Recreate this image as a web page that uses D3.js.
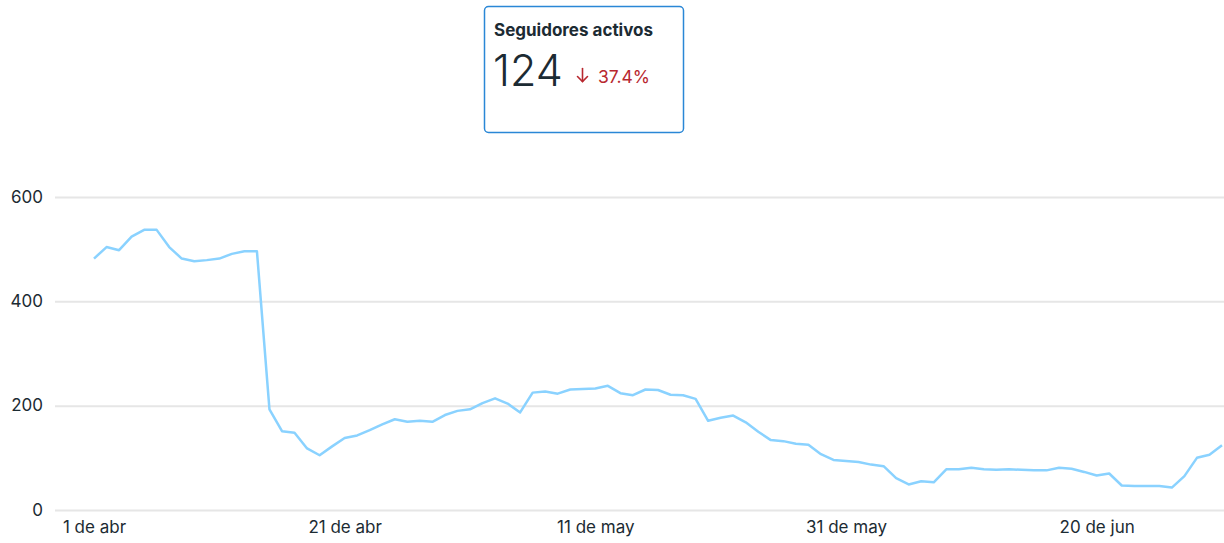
<!DOCTYPE html>
<html>
<head>
<meta charset="utf-8">
<script src="https://cdn.jsdelivr.net/npm/d3@7"></script>
<style>
  body { margin: 0; background: #fff; font-family: "Inter", "Roboto", sans-serif; }
  svg { display: block; }
</style>
</head>
<body>
<svg id="chart"></svg>
<script>
// Active followers per day, 1 Apr -> 30 Jun
const startDate = new Date(2024, 3, 1);
const followers = [
  482, 504, 498, 524, 537, 537, 504, 482, 477, 479,
  482, 491, 496, 496, 193, 151, 148, 118, 105, 122,
  138, 143, 153, 164, 174, 169, 171, 169, 182, 190,
  193, 205, 214, 204, 187, 225, 227, 223, 231, 232,
  233, 238, 224, 220, 231, 230, 221, 220, 213, 171,
  177, 181, 168, 150, 134, 132, 127, 125, 107, 96,
  94, 92, 87, 84, 61, 49, 55, 53, 78, 78,
  81, 78, 77, 78, 77, 76, 76, 81, 79, 73,
  66, 70, 47, 46, 46, 46, 43, 65, 100, 106,
  124
];
const yTicks = [0, 200, 400, 600];
const xTickLabels = ["1 de abr", "21 de abr", "11 de may", "31 de may", "20 de jun"];
const cardTitle = "Seguidores activos";
const cardValue = "124";
const cardChange = "37.4%";

const width = 1224, height = 543;
const font = "Inter, Roboto, sans-serif";
const svg = d3.select("#chart").attr("width", width).attr("height", height);

const data = followers.map((v, i) => ({ date: d3.timeDay.offset(startDate, i), value: v }));
const xTickDates = xTickLabels.map((_, i) => d3.timeDay.offset(startDate, i * 20));

const x = d3.scaleTime()
  .domain([startDate, data[data.length - 1].date])
  .range([94, 1222]);
const y = d3.scaleLinear().domain([0, 600]).range([510, 197]);

// Grid lines + y labels
const yAxis = svg.append("g")
  .attr("transform", "translate(55,0)")
  .call(d3.axisLeft(y).tickValues(yTicks).tickSize(-(width - 55)).tickPadding(12));
yAxis.select(".domain").remove();
yAxis.selectAll(".tick line").attr("stroke", "#e6e6e6").attr("stroke-width", 2);
yAxis.selectAll(".tick text")
  .attr("fill", "#1c2b33")
  .attr("dy", "0.3em")
  .style("font-size", "17px")
  .style("font-family", font);

// X labels
const xAxis = svg.append("g")
  .attr("transform", "translate(0,517)")
  .call(d3.axisBottom(x).tickValues(xTickDates).tickSize(0).tickPadding(4)
    .tickFormat((d, i) => xTickLabels[i]));
xAxis.select(".domain").remove();
xAxis.selectAll(".tick text")
  .attr("fill", "#1c2b33")
  .style("font-size", "17px")
  .style("font-family", font);

// Line
const line = d3.line()
  .x(d => x(d.date))
  .y(d => y(d.value));
svg.append("path")
  .datum(data)
  .attr("fill", "none")
  .attr("stroke", "#8ad2ff")
  .attr("stroke-width", 2.5)
  .attr("stroke-linejoin", "round")
  .attr("d", line);

// Summary card
const card = svg.append("g").attr("transform", "translate(484.5,6.5)");
card.append("rect")
  .attr("width", 199).attr("height", 126)
  .attr("rx", 4)
  .attr("fill", "#fff")
  .attr("stroke", "#2a87d6")
  .attr("stroke-width", 1.5);
card.append("text")
  .attr("x", 9.5).attr("y", 29)
  .attr("fill", "#1c2b33")
  .style("font-size", "17px")
  .style("font-weight", "700")
  .style("font-family", font)
  .text(cardTitle);
card.append("text")
  .attr("x", 8.5).attr("y", 79)
  .attr("fill", "#1c2b33")
  .style("font-size", "43px")
  .style("font-family", font)
  .style("font-weight", "300")
  .text(cardValue);

// down arrow drawn as a small path
const arrow = card.append("g")
  .attr("transform", "translate(92,61)")
  .attr("stroke", "#b8282f")
  .attr("stroke-width", 1.6)
  .attr("fill", "none")
  .attr("stroke-linecap", "round");
arrow.append("path").attr("d", "M6,1 V14");
arrow.append("path").attr("d", "M1,9 L6,14 L11,9");

card.append("text")
  .attr("x", 113.5).attr("y", 76)
  .attr("fill", "#b8282f")
  .style("font-size", "17.5px")
  .style("font-family", font)
  .text(cardChange);
</script>
</body>
</html>
